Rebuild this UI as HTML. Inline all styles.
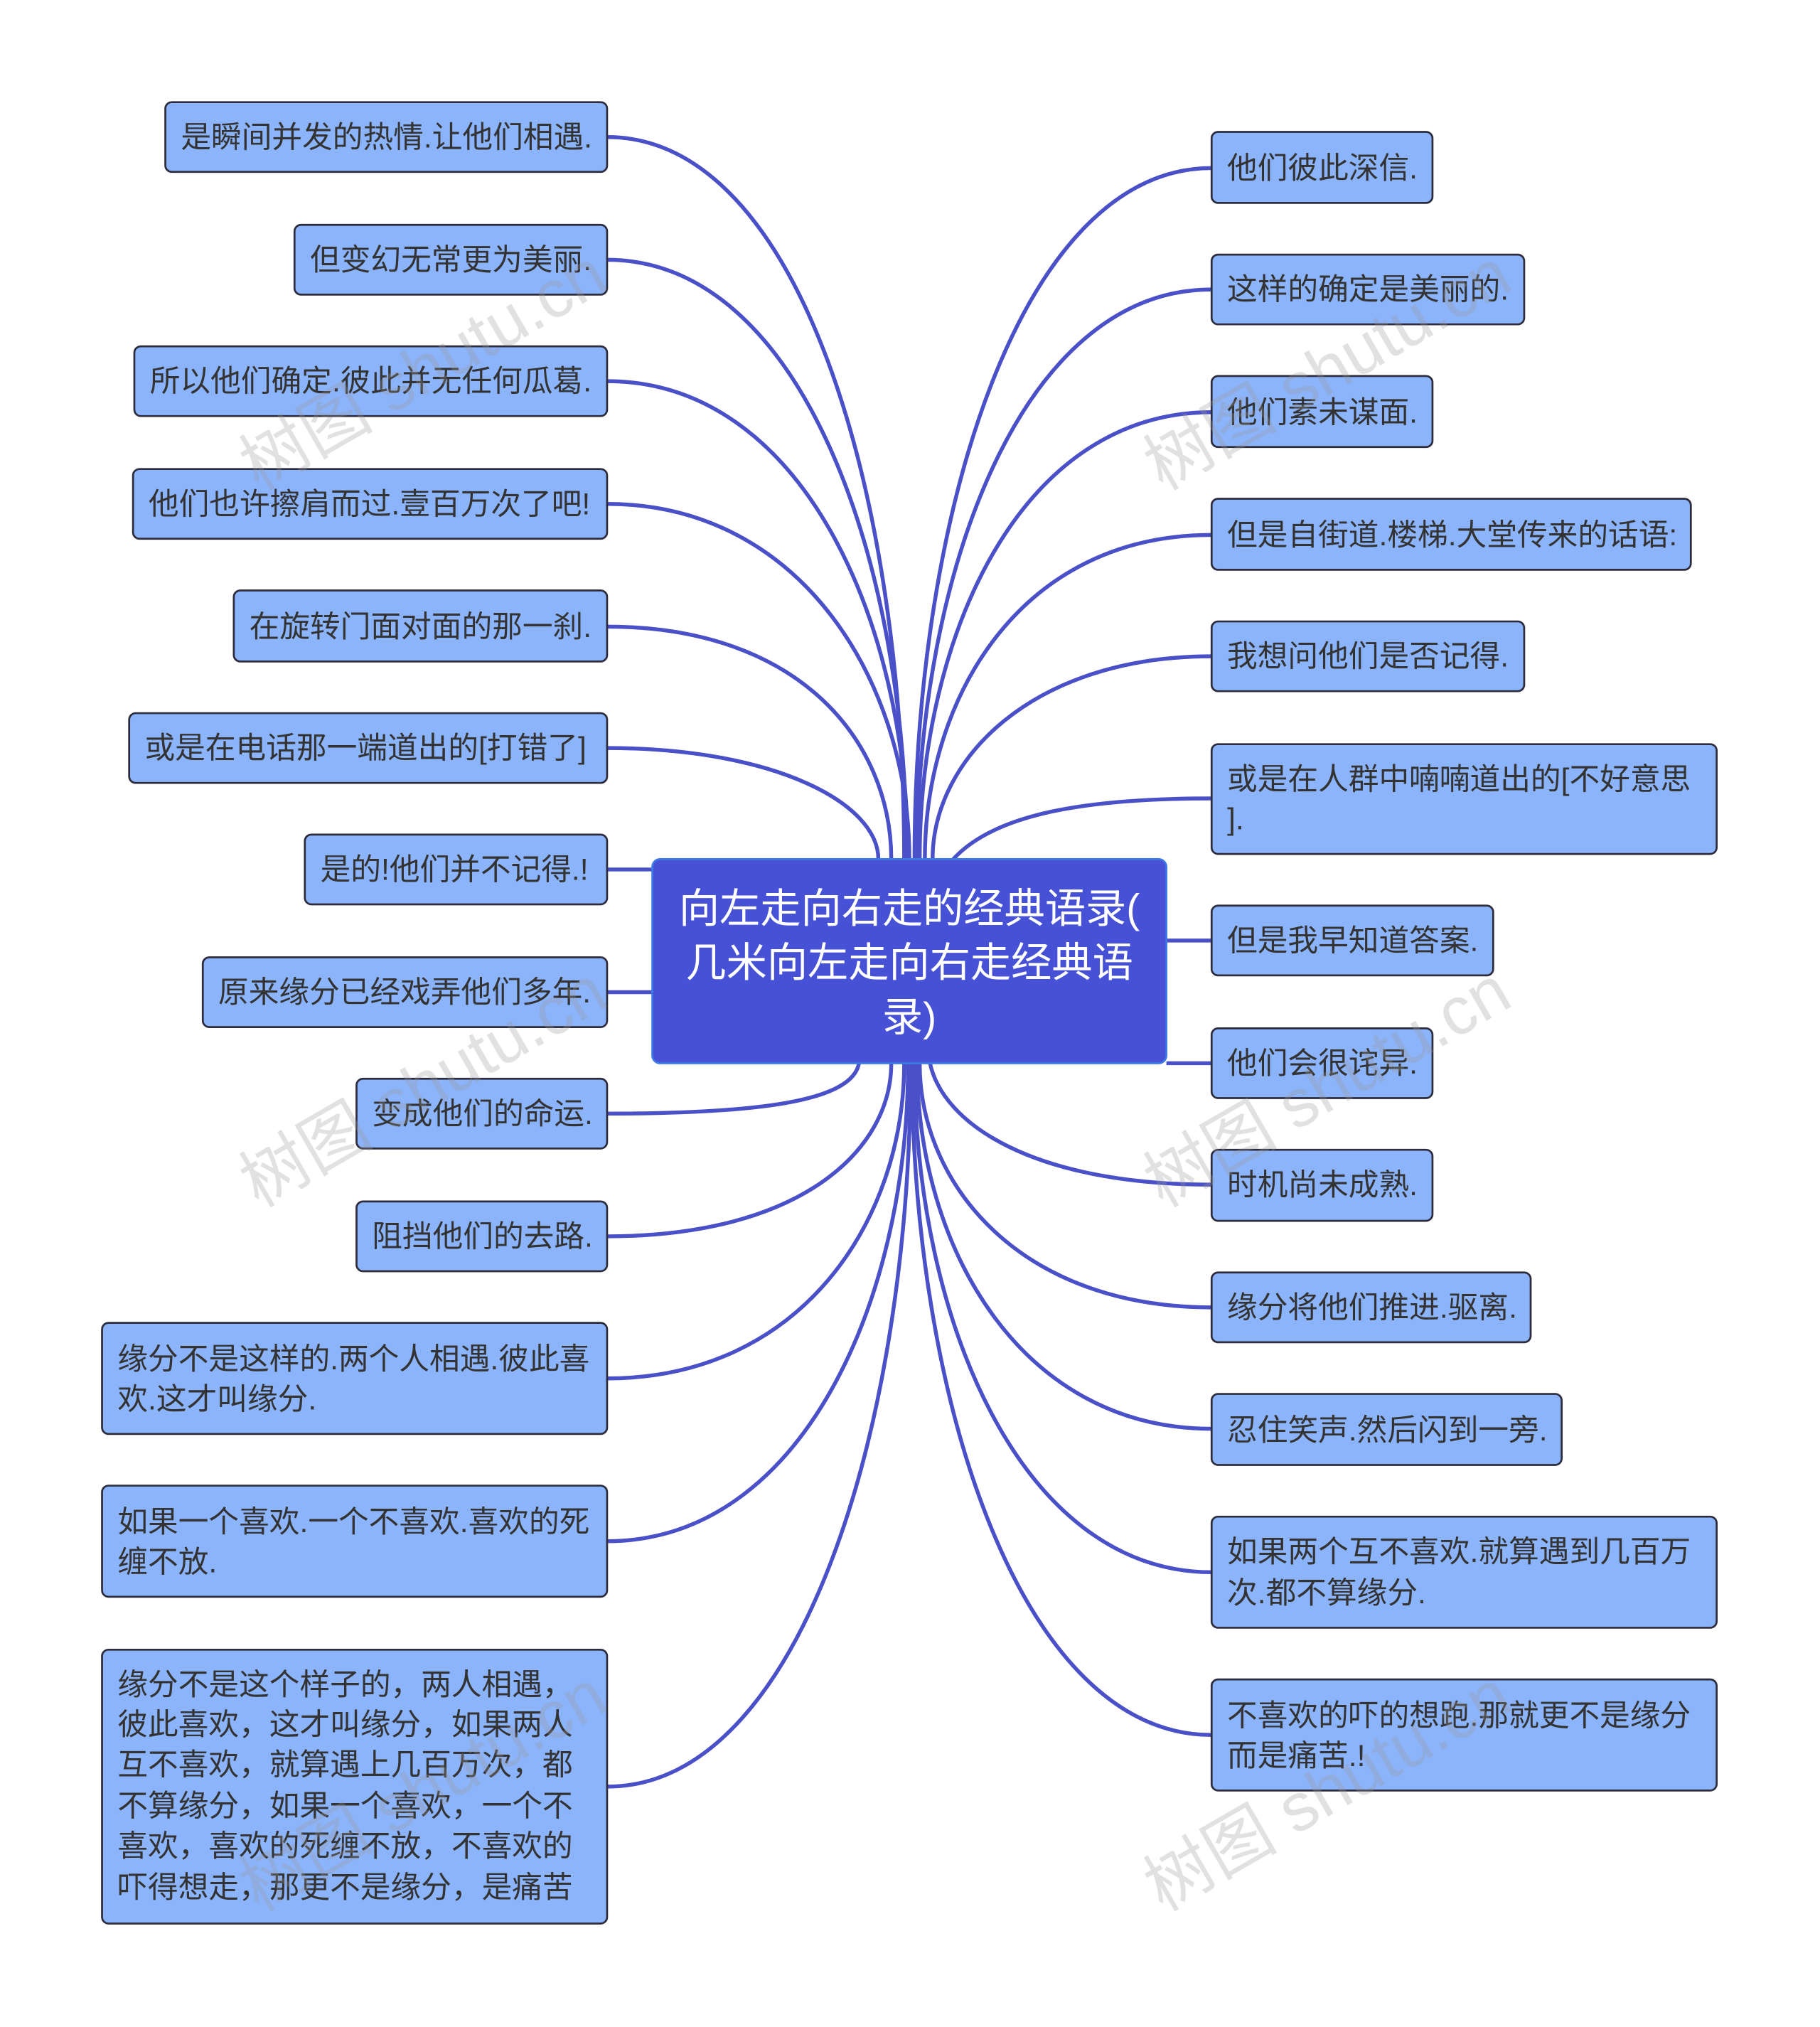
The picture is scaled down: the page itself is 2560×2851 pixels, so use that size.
<!DOCTYPE html>
<html><head><meta charset="utf-8"><style>
html,body{margin:0;padding:0;background:#fff;}
svg{display:block}
text{font-family:"Liberation Sans","Noto Sans CJK SC",sans-serif;}
</style></head><body>
<svg width="2560" height="2851" viewBox="0 0 1409 1569" xmlns="http://www.w3.org/2000/svg">
<g fill="none" stroke="#4a50c8" stroke-width="3">
<path d="M470,106 C620,106 700,385 700,665"/>
<path d="M470,201 C620,201 702,433 702,665"/>
<path d="M470,295 C620,295 703,480 703,665"/>
<path d="M470,390 C620,390 704,528 704,665"/>
<path d="M470,485 C620,485 690,575 690,665"/>
<path d="M470,579 C600,579 680,622 680,665"/>
<path d="M470,673 L505,673"/>
<path d="M470,768 L505,768"/>
<path d="M470,862 C600,862 660,850 665,823"/>
<path d="M470,957 C620,957 690,890 690,823"/>
<path d="M470,1067 C620,1067 700,945 700,823"/>
<path d="M470,1193 C620,1193 703,1008 703,823"/>
<path d="M470,1383 C620,1383 705,1103 705,823"/>
<path d="M938,130 C790,130 708,398 708,665"/>
<path d="M938,224 C790,224 710,445 710,665"/>
<path d="M938,319 C790,319 712,492 712,665"/>
<path d="M938,414 C790,414 716,540 716,665"/>
<path d="M938,508 C800,508 722,587 722,665"/>
<path d="M938,618 C840,618 770,630 738,665"/>
<path d="M903,728 L938,728"/>
<path d="M903,823 L938,823"/>
<path d="M938,917 C800,917 730,870 720,823"/>
<path d="M938,1012 C790,1012 712,917 712,823"/>
<path d="M938,1106 C790,1106 710,965 710,823"/>
<path d="M938,1217 C790,1217 708,1020 708,823"/>
<path d="M938,1343 C790,1343 706,1083 706,823"/>
</g>
<g fill="#8cb4fb" stroke="#2c2c3c" stroke-width="1.5">
<rect x="128" y="79" width="342" height="54" rx="5"/>
<rect x="228" y="174" width="242" height="54" rx="5"/>
<rect x="104" y="268" width="366" height="54" rx="5"/>
<rect x="103" y="363" width="367" height="54" rx="5"/>
<rect x="181" y="457" width="289" height="55" rx="5"/>
<rect x="100" y="552" width="370" height="54" rx="5"/>
<rect x="236" y="646" width="234" height="54" rx="5"/>
<rect x="157" y="741" width="313" height="54" rx="5"/>
<rect x="276" y="835" width="194" height="54" rx="5"/>
<rect x="276" y="930" width="194" height="54" rx="5"/>
<rect x="79" y="1024" width="391" height="86" rx="5"/>
<rect x="79" y="1150" width="391" height="86" rx="5"/>
<rect x="79" y="1277" width="391" height="212" rx="5"/>
<rect x="938" y="102" width="171" height="55" rx="5"/>
<rect x="938" y="197" width="242" height="54" rx="5"/>
<rect x="938" y="291" width="171" height="55" rx="5"/>
<rect x="938" y="386" width="371" height="55" rx="5"/>
<rect x="938" y="481" width="242" height="54" rx="5"/>
<rect x="938" y="576" width="391" height="85" rx="5"/>
<rect x="938" y="701" width="218" height="54" rx="5"/>
<rect x="938" y="796" width="171" height="54" rx="5"/>
<rect x="938" y="890" width="171" height="55" rx="5"/>
<rect x="938" y="985" width="247" height="54" rx="5"/>
<rect x="938" y="1079" width="271" height="55" rx="5"/>
<rect x="938" y="1174" width="391" height="86" rx="5"/>
<rect x="938" y="1300" width="391" height="86" rx="5"/>
</g>
<rect x="505" y="665" width="398" height="158" rx="6" fill="#4651d6" stroke="#3d7ae6" stroke-width="1.5"/>
<g fill="#fff" font-size="31.5" text-anchor="middle">
<text x="704" y="714">向左走向右走的经典语录(</text>
<text x="704" y="756">几米向左走向右走经典语</text>
<text x="704" y="798">录)</text>
</g>
<g fill="#333" font-size="23.5">
<text x="140" y="114">是瞬间并发的热情.让他们相遇.</text>
<text x="240" y="209">但变幻无常更为美丽.</text>
<text x="116" y="303">所以他们确定.彼此并无任何瓜葛.</text>
<text x="115" y="398">他们也许擦肩而过.壹百万次了吧!</text>
<text x="193" y="493">在旋转门面对面的那一刹.</text>
<text x="112" y="587">或是在电话那一端道出的[打错了]</text>
<text x="248" y="681">是的!他们并不记得.!</text>
<text x="169" y="776">原来缘分已经戏弄他们多年.</text>
<text x="288" y="870">变成他们的命运.</text>
<text x="288" y="965">阻挡他们的去路.</text>
<text x="91" y="1060">缘分不是这样的.两个人相遇.彼此喜</text>
<text x="91" y="1091">欢.这才叫缘分.</text>
<text x="91" y="1186">如果一个喜欢.一个不喜欢.喜欢的死</text>
<text x="91" y="1217">缠不放.</text>
<text x="91" y="1312">缘分不是这个样子的，两人相遇，</text>
<text x="91" y="1343">彼此喜欢，这才叫缘分，如果两人</text>
<text x="91" y="1374">互不喜欢，就算遇上几百万次，都</text>
<text x="91" y="1406">不算缘分，如果一个喜欢，一个不</text>
<text x="91" y="1437">喜欢，喜欢的死缠不放，不喜欢的</text>
<text x="91" y="1469">吓得想走，那更不是缘分，是痛苦</text>
<text x="950" y="138">他们彼此深信.</text>
<text x="950" y="232">这样的确定是美丽的.</text>
<text x="950" y="327">他们素未谋面.</text>
<text x="950" y="422">但是自街道.楼梯.大堂传来的话语:</text>
<text x="950" y="516">我想问他们是否记得.</text>
<text x="950" y="611">或是在人群中喃喃道出的[不好意思</text>
<text x="950" y="642">].</text>
<text x="950" y="736">但是我早知道答案.</text>
<text x="950" y="831">他们会很诧异.</text>
<text x="950" y="925">时机尚未成熟.</text>
<text x="950" y="1020">缘分将他们推进.驱离.</text>
<text x="950" y="1115">忍住笑声.然后闪到一旁.</text>
<text x="950" y="1209">如果两个互不喜欢.就算遇到几百万</text>
<text x="950" y="1241">次.都不算缘分.</text>
<text x="950" y="1336">不喜欢的吓的想跑.那就更不是缘分</text>
<text x="950" y="1367">而是痛苦.!</text>
</g>
<g fill="#999" font-family="Liberation Serif,Noto Serif CJK SC,serif" font-size="52" opacity="0.3">
<text transform="translate(200,380) rotate(-30)">树图 shutu.cn</text>
<text transform="translate(900,380) rotate(-30)">树图 shutu.cn</text>
<text transform="translate(200,935) rotate(-30)">树图 shutu.cn</text>
<text transform="translate(900,935) rotate(-30)">树图 shutu.cn</text>
<text transform="translate(200,1480) rotate(-30)">树图 shutu.cn</text>
<text transform="translate(900,1480) rotate(-30)">树图 shutu.cn</text>
</g>
</svg>
</body></html>
